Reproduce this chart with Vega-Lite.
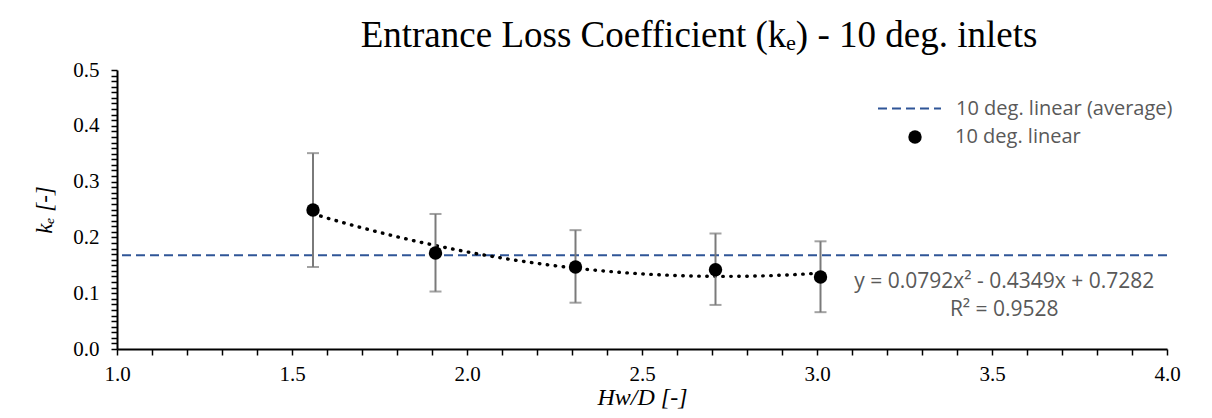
{
  "$schema": "https://vega.github.io/schema/vega-lite/v6.json",
  "width": 1050,
  "height": 279,
  "autosize": "none",
  "padding": {"left": 117, "top": 70, "right": 45, "bottom": 69},
  "background": "white",
  "config": {"view": {"stroke": null}, "font": "Liberation Serif"},
  "title": {
    "text": "Entrance Loss Coefficient (kₑ) - 10 deg. inlets",
    "font": "Liberation Serif",
    "fontSize": 37,
    "fontWeight": "normal",
    "color": "black",
    "anchor": "middle",
    "frame": "group",
    "offset": 4,
    "dx": 57
  },
  "datasets": {
    "points": [
      {"x": 1.56, "y": 0.249, "lo": 0.147, "hi": 0.351, "series": "10 deg. linear"},
      {"x": 1.91, "y": 0.172, "lo": 0.103, "hi": 0.242, "series": "10 deg. linear"},
      {"x": 2.31, "y": 0.147, "lo": 0.083, "hi": 0.213, "series": "10 deg. linear"},
      {"x": 2.71, "y": 0.142, "lo": 0.079, "hi": 0.207, "series": "10 deg. linear"},
      {"x": 3.01, "y": 0.129, "lo": 0.066, "hi": 0.193, "series": "10 deg. linear"}
    ],
    "avg": [{"series": "10 deg. linear (average)", "y": 0.168}],
    "eq": [
      {"x": 3.535, "y": 0.12, "label": "y = 0.0792x² - 0.4349x + 0.7282"},
      {"x": 3.535, "y": 0.07, "label": "R² = 0.9528"}
    ]
  },
  "encoding": {
    "x": {
      "field": "x",
      "type": "quantitative",
      "scale": {"domain": [1, 4], "nice": false, "zero": false},
      "axis": {
        "title": "Hw/D [-]",
        "titleFont": "Liberation Serif",
        "titleFontSize": 24,
        "titleFontStyle": "italic",
        "titleFontWeight": "normal",
        "titleColor": "black",
        "titlePadding": 1,
        "values": [1.0,1.1,1.2,1.3,1.4,1.5,1.6,1.7,1.8,1.9,2.0,2.1,2.2,2.3,2.4,2.5,2.6,2.7,2.8,2.9,3.0,3.1,3.2,3.3,3.4,3.5,3.6,3.7,3.8,3.9,4.0],
        "labelExpr": "abs(datum.value*2 - round(datum.value*2)) < 1e-6 ? format(datum.value, '.1f') : ''",
        "labelFont": "Liberation Serif",
        "labelFontSize": 21,
        "labelColor": "black",
        "labelPadding": 8,
        "labelOverlap": false,
        "labelFlush": false,
        "grid": false,
        "domainColor": "black",
        "domainWidth": 2,
        "tickColor": "black",
        "tickWidth": 1.5,
        "tickSize": 6
      }
    }
  },
  "layer": [
    {
      "data": {"name": "avg"},
      "mark": {"type": "rule", "color": "#2F5597", "strokeWidth": 2},
      "encoding": {
        "x": null,
        "y": {
          "field": "y", "type": "quantitative",
          "scale": {"domain": [0, 0.5], "nice": false, "zero": true},
          "axis": {"title": "kₑ [-]", "titleFont": "Liberation Serif", "titleFontSize": 23, "titleFontStyle": "italic", "titleFontWeight": "normal", "titleColor": "black", "titlePadding": 16,
            "values": [0,0.01,0.02,0.03,0.04,0.05,0.06,0.07,0.08,0.09,0.1,0.11,0.12,0.13,0.14,0.15,0.16,0.17,0.18,0.19,0.2,0.21,0.22,0.23,0.24,0.25,0.26,0.27,0.28,0.29,0.3,0.31,0.32,0.33,0.34,0.35,0.36,0.37,0.38,0.39,0.4,0.41,0.42,0.43,0.44,0.45,0.46,0.47,0.48,0.49,0.5],
            "labelExpr": "abs(datum.value*10 - round(datum.value*10)) < 1e-6 ? format(datum.value, '.1f') : ''",
            "labelFont": "Liberation Serif", "labelFontSize": 21, "labelColor": "black", "labelPadding": 12, "labelOverlap": false, "labelFlush": false, "grid": false, "domainColor": "black", "domainWidth": 2, "tickColor": "black", "tickWidth": 1.5, "tickSize": 6}
        },
        "strokeDash": {
          "field": "series",
          "type": "nominal",
          "scale": {"domain": ["10 deg. linear (average)"], "range": [[9, 5]]},
          "legend": {
            "title": null,
            "orient": "none",
            "legendX": 760,
            "legendY": 6,
            "padding": 0,
            "symbolType": "stroke",
            "symbolSize": 3969,
            "symbolStrokeColor": "#2F5597",
            "symbolStrokeWidth": 2,
            "labelFont": "Open Sans",
            "labelFontSize": 20,
            "labelColor": "#595959",
            "labelOffset": 14,
            "labelLimit": 500
          }
        }
      }
    },
    {
      "data": {"name": "points"},
      "transform": [{"regression": "y", "on": "x", "method": "poly", "order": 2}],
      "mark": {"type": "line", "color": "black", "strokeWidth": 3.4, "strokeDash": [0.5, 7.5], "strokeCap": "round"},
      "encoding": {
        "y": {"field": "y", "type": "quantitative",
          "scale": {"domain": [0, 0.5], "nice": false, "zero": true},
          "axis": {"title": "kₑ [-]", "titleFont": "Liberation Serif", "titleFontSize": 23, "titleFontStyle": "italic", "titleFontWeight": "normal", "titleColor": "black", "titlePadding": 16,
            "values": [0,0.01,0.02,0.03,0.04,0.05,0.06,0.07,0.08,0.09,0.1,0.11,0.12,0.13,0.14,0.15,0.16,0.17,0.18,0.19,0.2,0.21,0.22,0.23,0.24,0.25,0.26,0.27,0.28,0.29,0.3,0.31,0.32,0.33,0.34,0.35,0.36,0.37,0.38,0.39,0.4,0.41,0.42,0.43,0.44,0.45,0.46,0.47,0.48,0.49,0.5],
            "labelExpr": "abs(datum.value*10 - round(datum.value*10)) < 1e-6 ? format(datum.value, '.1f') : ''",
            "labelFont": "Liberation Serif", "labelFontSize": 21, "labelColor": "black", "labelPadding": 12, "labelOverlap": false, "labelFlush": false, "grid": false, "domainColor": "black", "domainWidth": 2, "tickColor": "black", "tickWidth": 1.5, "tickSize": 6}
        }
      }
    },
    {
      "data": {"name": "points"},
      "mark": {"type": "rule", "color": "#7a7a7a", "strokeWidth": 2},
      "encoding": {
        "y": {"field": "lo", "type": "quantitative",
          "scale": {"domain": [0, 0.5], "nice": false, "zero": true},
          "axis": {"title": "kₑ [-]", "titleFont": "Liberation Serif", "titleFontSize": 23, "titleFontStyle": "italic", "titleFontWeight": "normal", "titleColor": "black", "titlePadding": 16,
            "values": [0,0.01,0.02,0.03,0.04,0.05,0.06,0.07,0.08,0.09,0.1,0.11,0.12,0.13,0.14,0.15,0.16,0.17,0.18,0.19,0.2,0.21,0.22,0.23,0.24,0.25,0.26,0.27,0.28,0.29,0.3,0.31,0.32,0.33,0.34,0.35,0.36,0.37,0.38,0.39,0.4,0.41,0.42,0.43,0.44,0.45,0.46,0.47,0.48,0.49,0.5],
            "labelExpr": "abs(datum.value*10 - round(datum.value*10)) < 1e-6 ? format(datum.value, '.1f') : ''",
            "labelFont": "Liberation Serif", "labelFontSize": 21, "labelColor": "black", "labelPadding": 12, "labelOverlap": false, "labelFlush": false, "grid": false, "domainColor": "black", "domainWidth": 2, "tickColor": "black", "tickWidth": 1.5, "tickSize": 6}
        },
        "y2": {"field": "hi"}
      }
    },
    {
      "data": {"name": "points"},
      "mark": {"type": "tick", "orient": "horizontal", "color": "#7a7a7a", "size": 12, "thickness": 2},
      "encoding": {
        "y": {"field": "lo", "type": "quantitative",
          "scale": {"domain": [0, 0.5], "nice": false, "zero": true},
          "axis": {"title": "kₑ [-]", "titleFont": "Liberation Serif", "titleFontSize": 23, "titleFontStyle": "italic", "titleFontWeight": "normal", "titleColor": "black", "titlePadding": 16,
            "values": [0,0.01,0.02,0.03,0.04,0.05,0.06,0.07,0.08,0.09,0.1,0.11,0.12,0.13,0.14,0.15,0.16,0.17,0.18,0.19,0.2,0.21,0.22,0.23,0.24,0.25,0.26,0.27,0.28,0.29,0.3,0.31,0.32,0.33,0.34,0.35,0.36,0.37,0.38,0.39,0.4,0.41,0.42,0.43,0.44,0.45,0.46,0.47,0.48,0.49,0.5],
            "labelExpr": "abs(datum.value*10 - round(datum.value*10)) < 1e-6 ? format(datum.value, '.1f') : ''",
            "labelFont": "Liberation Serif", "labelFontSize": 21, "labelColor": "black", "labelPadding": 12, "labelOverlap": false, "labelFlush": false, "grid": false, "domainColor": "black", "domainWidth": 2, "tickColor": "black", "tickWidth": 1.5, "tickSize": 6}
        }
      }
    },
    {
      "data": {"name": "points"},
      "mark": {"type": "tick", "orient": "horizontal", "color": "#7a7a7a", "size": 12, "thickness": 2},
      "encoding": {
        "y": {"field": "hi", "type": "quantitative",
          "scale": {"domain": [0, 0.5], "nice": false, "zero": true},
          "axis": {"title": "kₑ [-]", "titleFont": "Liberation Serif", "titleFontSize": 23, "titleFontStyle": "italic", "titleFontWeight": "normal", "titleColor": "black", "titlePadding": 16,
            "values": [0,0.01,0.02,0.03,0.04,0.05,0.06,0.07,0.08,0.09,0.1,0.11,0.12,0.13,0.14,0.15,0.16,0.17,0.18,0.19,0.2,0.21,0.22,0.23,0.24,0.25,0.26,0.27,0.28,0.29,0.3,0.31,0.32,0.33,0.34,0.35,0.36,0.37,0.38,0.39,0.4,0.41,0.42,0.43,0.44,0.45,0.46,0.47,0.48,0.49,0.5],
            "labelExpr": "abs(datum.value*10 - round(datum.value*10)) < 1e-6 ? format(datum.value, '.1f') : ''",
            "labelFont": "Liberation Serif", "labelFontSize": 21, "labelColor": "black", "labelPadding": 12, "labelOverlap": false, "labelFlush": false, "grid": false, "domainColor": "black", "domainWidth": 2, "tickColor": "black", "tickWidth": 1.5, "tickSize": 6}
        }
      }
    },
    {
      "data": {"name": "points"},
      "mark": {"type": "point", "filled": true, "color": "black", "opacity": 1, "size": 180},
      "encoding": {
        "y": {"field": "y", "type": "quantitative",
          "scale": {"domain": [0, 0.5], "nice": false, "zero": true},
          "axis": {"title": "kₑ [-]", "titleFont": "Liberation Serif", "titleFontSize": 23, "titleFontStyle": "italic", "titleFontWeight": "normal", "titleColor": "black", "titlePadding": 16,
            "values": [0,0.01,0.02,0.03,0.04,0.05,0.06,0.07,0.08,0.09,0.1,0.11,0.12,0.13,0.14,0.15,0.16,0.17,0.18,0.19,0.2,0.21,0.22,0.23,0.24,0.25,0.26,0.27,0.28,0.29,0.3,0.31,0.32,0.33,0.34,0.35,0.36,0.37,0.38,0.39,0.4,0.41,0.42,0.43,0.44,0.45,0.46,0.47,0.48,0.49,0.5],
            "labelExpr": "abs(datum.value*10 - round(datum.value*10)) < 1e-6 ? format(datum.value, '.1f') : ''",
            "labelFont": "Liberation Serif", "labelFontSize": 21, "labelColor": "black", "labelPadding": 12, "labelOverlap": false, "labelFlush": false, "grid": false, "domainColor": "black", "domainWidth": 2, "tickColor": "black", "tickWidth": 1.5, "tickSize": 6}
        },
        "shape": {
          "field": "series",
          "type": "nominal",
          "scale": {"domain": ["10 deg. linear"], "range": ["circle"]},
          "legend": {
            "title": null,
            "orient": "none",
            "legendX": 788,
            "legendY": 57,
            "padding": 0,
            "symbolSize": 180,
            "symbolFillColor": "black",
            "symbolStrokeColor": "black",
            "symbolStrokeWidth": 0,
            "labelFont": "Open Sans",
            "labelFontSize": 20,
            "labelColor": "#595959",
            "labelOffset": 30,
            "labelLimit": 500
          }
        }
      }
    },
    {
      "data": {"name": "eq"},
      "mark": {"type": "text", "font": "Open Sans", "fontSize": 21, "color": "#595959", "align": "center", "baseline": "middle"},
      "encoding": {
        "y": {"field": "y", "type": "quantitative",
          "scale": {"domain": [0, 0.5], "nice": false, "zero": true},
          "axis": {"title": "kₑ [-]", "titleFont": "Liberation Serif", "titleFontSize": 23, "titleFontStyle": "italic", "titleFontWeight": "normal", "titleColor": "black", "titlePadding": 16,
            "values": [0,0.01,0.02,0.03,0.04,0.05,0.06,0.07,0.08,0.09,0.1,0.11,0.12,0.13,0.14,0.15,0.16,0.17,0.18,0.19,0.2,0.21,0.22,0.23,0.24,0.25,0.26,0.27,0.28,0.29,0.3,0.31,0.32,0.33,0.34,0.35,0.36,0.37,0.38,0.39,0.4,0.41,0.42,0.43,0.44,0.45,0.46,0.47,0.48,0.49,0.5],
            "labelExpr": "abs(datum.value*10 - round(datum.value*10)) < 1e-6 ? format(datum.value, '.1f') : ''",
            "labelFont": "Liberation Serif", "labelFontSize": 21, "labelColor": "black", "labelPadding": 12, "labelOverlap": false, "labelFlush": false, "grid": false, "domainColor": "black", "domainWidth": 2, "tickColor": "black", "tickWidth": 1.5, "tickSize": 6}
        },
        "text": {"field": "label", "type": "nominal"}
      }
    }
  ]
}
